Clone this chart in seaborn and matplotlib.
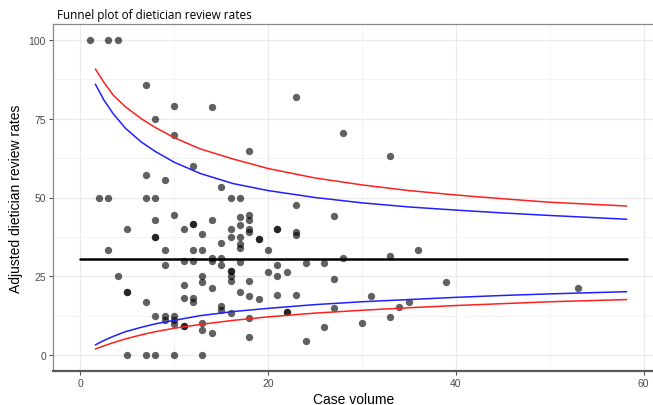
import numpy as np
import pandas as pd
import matplotlib
matplotlib.use("Agg")
import matplotlib.pyplot as plt
import seaborn as sns

# ---- data ----
case_volume = [1, 2, 3, 3, 3, 4, 4, 5, 5, 5, 5,
               7, 7, 7, 7, 7, 8, 8, 8, 8, 8, 8, 8,
               9, 9, 9, 9, 9, 10, 10, 10, 10, 10, 10, 10,
               11, 11, 11, 11, 11, 11, 12, 12, 12, 12, 12, 12, 12,
               13, 13, 13, 13, 13, 13, 13, 14, 14, 14, 14, 14, 14,
               15, 15, 15, 15, 15, 15, 16, 16, 16, 16, 16, 16, 16, 16,
               17, 17, 17, 17, 17, 17, 17, 17,
               18, 18, 18, 18, 18, 18, 18, 18, 18,
               19, 19, 19, 20, 20, 21, 21, 21, 21, 21, 22, 22, 22,
               23, 23, 23, 23, 23, 24, 24, 26, 26, 27, 27, 27, 28, 28,
               30, 31, 33, 33, 33, 34, 35, 36, 39, 53]
review_rate = [100, 50, 100, 50, 33.3, 100, 25, 40, 20, 20, 0,
               85.7, 57.1, 50, 16.7, 0, 75, 50, 42.9, 37.5, 37.5, 12.5, 0,
               55.6, 33.3, 28.6, 12.5, 11.1, 79, 70, 44.4, 12.5, 11.1, 10, 0,
               40, 30, 22.2, 18.2, 9.1, 9.1, 60, 41.7, 41.7, 33.3, 30, 18.2, 16.7,
               38.5, 33.3, 25, 23.3, 10.2, 7.8, 0, 78.6, 42.9, 30.8, 30, 21.4, 7.1,
               53.3, 35.7, 30.8, 28.6, 15.4, 14.3, 50, 40, 37.5, 26.7, 26.7, 25, 23.5, 13.3,
               50, 43.8, 41.2, 37.5, 35.3, 33.9, 29.4, 20,
               64.7, 44.4, 42.9, 40, 38.9, 23.5, 18.8, 11.8, 5.6,
               36.8, 36.8, 17.9, 33.3, 26.2, 40, 40, 28.6, 25, 19, 26.2, 13.6, 13.6,
               81.8, 47.7, 39.1, 38.1, 19, 29.2, 4.3, 29.2, 8.8, 44, 24, 14.9, 70.4, 30.8,
               10.2, 18.6, 63.3, 31.3, 12.2, 15.1, 16.7, 33.3, 23.1, 21.2]

limit_x = [1.6, 2.5, 3.5, 4.8, 6.5, 8, 10, 12.8, 16.3, 20, 25, 30, 35, 40, 45, 50, 58.2]
upper_99 = [90.8, 86.6, 82.5, 78.8, 75.0, 72.2, 69.0, 65.4, 62.2, 59.2, 56.2, 54.0,
            52.2, 50.8, 49.6, 48.5, 47.3]
upper_95 = [86.0, 81.0, 76.6, 72.0, 67.6, 64.6, 61.2, 57.6, 54.4, 52.2, 50.0, 48.3,
            47.0, 46.0, 45.1, 44.3, 43.1]
lower_95 = [3.2, 4.6, 5.9, 7.4, 8.8, 9.9, 11.0, 12.5, 13.8, 14.8, 16.0, 16.9,
            17.6, 18.3, 18.9, 19.4, 20.1]
lower_99 = [1.9, 2.9, 3.9, 5.1, 6.4, 7.4, 8.5, 9.7, 11.0, 12.1, 13.3, 14.2,
            15.0, 15.7, 16.3, 16.9, 17.6]

mean_x = [0, 58.2]
mean_rate = [30.4, 30.4]

x_ticks = [0, 20, 40, 60]
y_ticks = [0, 25, 50, 75, 100]

title_text = "Funnel plot of dietician review rates"
x_label = "Case volume"
y_label = "Adjusted dietician review rates"

# ---- plotting ----
sns.set_theme(style="white")
plt.rcParams['font.family'] = ['Liberation Sans', 'DejaVu Sans']
plt.rcParams['lines.solid_joinstyle'] = 'round'

fig = plt.figure(figsize=(6.53, 4.06), dpi=100)
W, H = 653, 406
left, right, top, bottom = 53, 654, 25.25, 371.75
ax = fig.add_axes([left / W, (H - bottom) / H, (right - left) / W, (bottom - top) / H])

pts = pd.DataFrame({"x": case_volume, "y": review_rate})
sns.scatterplot(data=pts, x="x", y="y", ax=ax, color="black", alpha=0.62,
                s=28, linewidth=0, zorder=3)

lim = pd.DataFrame({"x": limit_x, "u99": upper_99, "u95": upper_95,
                    "l95": lower_95, "l99": lower_99})
sns.lineplot(data=lim, x="x", y="u99", ax=ax, color="#ff2020", lw=1.1, zorder=4)
sns.lineplot(data=lim, x="x", y="l99", ax=ax, color="#ff2020", lw=1.1, zorder=4)
sns.lineplot(data=lim, x="x", y="u95", ax=ax, color="#2020ff", lw=1.1, zorder=4)
sns.lineplot(data=lim, x="x", y="l95", ax=ax, color="#2020ff", lw=1.1, zorder=4)
sns.lineplot(x=mean_x, y=mean_rate, ax=ax, color="black", lw=1.8, zorder=5)

ax.set_xlim(-2.91, 61.11)
ax.set_ylim(-5, 105)
ax.set_xticks(x_ticks)
ax.set_yticks(y_ticks)
ax.set_xticks([10, 30, 50], minor=True)
ax.set_yticks([12.5, 37.5, 62.5, 87.5], minor=True)
ax.grid(True, which="major", color="#ebebeb", lw=1.0, zorder=0)
ax.grid(True, which="minor", color="#f2f2f2", lw=0.6, zorder=0)
ax.set_axisbelow(True)

ax.tick_params(axis="both", which="major", direction="out", length=3, width=0.8,
               color="#555555", labelcolor="#4d4d4d", labelsize=7.5, pad=2,
               bottom=True, left=True)
ax.tick_params(axis="both", which="minor", length=0)

for side in ["top", "left"]:
    ax.spines[side].set_color("#8a8a8a")
    ax.spines[side].set_linewidth(0.9)
ax.spines["bottom"].set_color("#5a5a5a")
ax.spines["bottom"].set_linewidth(1.6)
ax.spines["right"].set_visible(False)

ax.set_xlabel(x_label, fontsize=10, color="black", labelpad=3)
ax.set_ylabel(y_label, fontsize=10, color="black", labelpad=4)

fig.text(57 / W, 1 - 15 / H, title_text, fontsize=8.5, color="black",
         ha="left", va="center", family=["Open Sans", "DejaVu Sans"])

fig.savefig("out.png", dpi=100)
